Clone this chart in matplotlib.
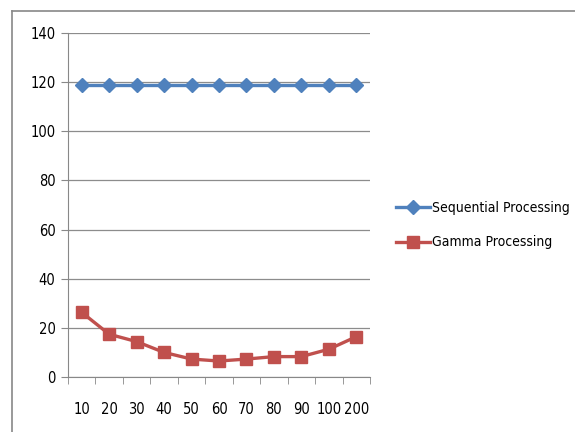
import matplotlib.pyplot as plt
from matplotlib.lines import Line2D
from matplotlib import font_manager

categories = ["10", "20", "30", "40", "50", "60", "70", "80", "90", "100", "200"]
sequential = [118.7, 118.7, 118.7, 118.7, 118.7, 118.7, 118.7, 118.7, 118.7, 118.7, 118.7]
gamma = [26.3, 17.4, 14.4, 10.0, 7.3, 6.5, 7.3, 8.3, 8.3, 11.3, 16.4]

# a narrow look like the original; condensed DejaVu if it is there
condensed = any(f.name == "DejaVu Sans" and f.stretch == "condensed"
                for f in font_manager.fontManager.ttflist)
if condensed:
    plt.rcParams["font.family"] = ["DejaVu Sans"]
    plt.rcParams["font.stretch"] = "condensed"
    fs = 10
else:
    plt.rcParams["font.family"] = ["Liberation Sans", "DejaVu Sans"]
    fs = 9.5

fig = plt.figure(figsize=(5.75, 4.32), dpi=100)
ax = fig.add_axes([68 / 575, 55 / 432, 302 / 575, 344 / 432])

x = list(range(len(categories)))
ax.plot(x, sequential, color="#4F81BD", lw=2.4, marker="D", markersize=7.5,
        label="Sequential Processing")
ax.plot(x, gamma, color="#C0504D", lw=2.4, marker="s", markersize=8.5,
        label="Gamma Processing")

ax.set_xlim(-0.5, len(categories) - 0.5)
ax.set_ylim(0, 140)
ax.set_yticks(range(0, 141, 20))
ax.set_xticks(x)
ax.set_xticklabels(categories)
ax.set_xticks([i - 0.5 for i in range(len(categories) + 1)], minor=True)
ax.tick_params(axis="x", which="major", length=0, pad=18, labelsize=fs + 0.5)
ax.tick_params(axis="x", which="minor", length=5, color="#888888", direction="out")
ax.tick_params(axis="y", length=5, color="#888888", labelsize=fs + 0.5, pad=4)
ax.grid(axis="y", color="#8c8c8c", lw=0.9)
ax.set_axisbelow(True)
for s in ["top", "right"]:
    ax.spines[s].set_visible(False)
for s in ["left", "bottom"]:
    ax.spines[s].set_color("#888888")

fig.legend(loc="center left", bbox_to_anchor=(390 / 575, 1 - 225 / 432),
           frameon=False, fontsize=fs, handlelength=2.5, handletextpad=0.1,
           labelspacing=1.5, borderaxespad=0)

fig.add_artist(Line2D([12 / 575, 1], [1 - 11 / 432, 1 - 11 / 432], color="#888888", lw=1.2))
fig.add_artist(Line2D([12 / 575, 12 / 575], [0, 1 - 11 / 432], color="#888888", lw=1.2))

fig.savefig("out.png")
